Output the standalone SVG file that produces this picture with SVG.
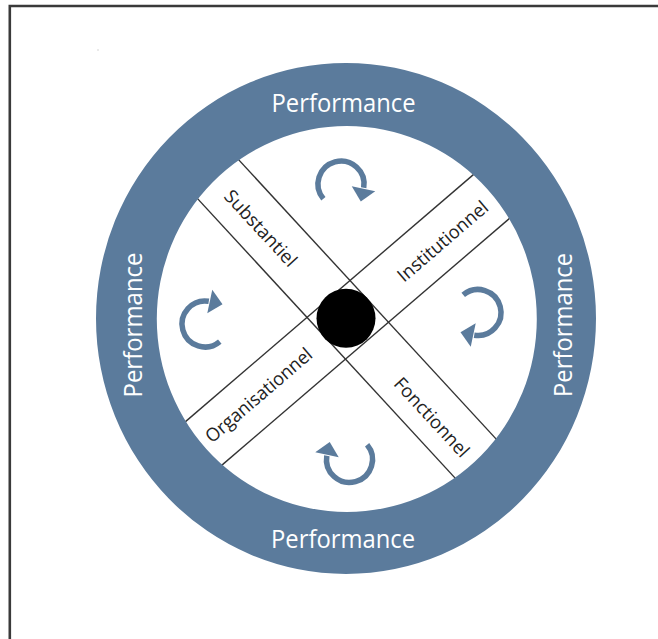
<svg xmlns="http://www.w3.org/2000/svg" width="658" height="639" viewBox="0 0 658 639">
<style>
.frame{fill:none;stroke:#3a3a3a;stroke-width:2.6}
.ring{fill:#5b7b9c;fill-rule:evenodd}
.perf{font-family:"Open Sans","Noto Sans","DejaVu Sans",sans-serif;font-size:25px;fill:#ffffff;text-anchor:middle}
.lbl{font-family:"Open Sans","Noto Sans","DejaVu Sans",sans-serif;font-size:18.5px;fill:#222222;text-anchor:middle}
.band{stroke:#333333;stroke-width:1.4;fill:none}
.arc{fill:none;stroke:#5b7b9c;stroke-width:5.5}
.head{fill:#5b7b9c}
</style>
<defs>
<g id="arrow">
<path class="arc" d="M -17.62,14.78 A 23 23 0 1 1 22.7,3.8"/>
<polygon class="head" points="34.24,7.27 10.76,2.29 19.8,17.5"/>
</g>
</defs>
<rect width="658" height="639" fill="#ffffff"/>
<path class="frame" d="M9.8,639 V6 H658"/>
<circle cx="98" cy="50" r="0.8" fill="#d0d0d0"/>
<g id="connectors">
<line class="band" x1="235.3" y1="156.1" x2="499.7" y2="442.9"/>
<line class="band" x1="194.3" y1="195.1" x2="457.7" y2="480.9"/>
<line class="band" x1="476" y1="172.4" x2="182" y2="424.6"/>
<line class="band" x1="513" y1="215.4" x2="219" y2="467.6"/>
</g>
<g id="performance-ring">
<path class="ring" d="M96,318.4 A250,255.5 0 1 0 596,318.4 A250,255.5 0 1 0 96,318.4 Z M156.8,319 A190,193 0 1 0 536.8,319 A190,193 0 1 0 156.8,319 Z"/>
<text class="perf" x="343.5" y="112" textLength="144" lengthAdjust="spacingAndGlyphs">Performance</text>
<text class="perf" x="343" y="548" textLength="144" lengthAdjust="spacingAndGlyphs">Performance</text>
<text class="perf" transform="translate(142,325) rotate(-90)" textLength="145" lengthAdjust="spacingAndGlyphs">Performance</text>
<text class="perf" transform="translate(572,325) rotate(-90)" textLength="144" lengthAdjust="spacingAndGlyphs">Performance</text>
</g>
<g id="center">
<circle cx="346" cy="318.3" r="29.5" fill="#000000"/>
</g>
<g id="substantiel">
<text class="lbl" transform="translate(261,228) rotate(47.3)" y="6.8" textLength="97" lengthAdjust="spacingAndGlyphs">Substantiel</text>
</g>
<g id="fonctionnel">
<text class="lbl" transform="translate(432,417) rotate(47.3)" y="6.8" textLength="101" lengthAdjust="spacingAndGlyphs">Fonctionnel</text>
</g>
<g id="institutionnel">
<text class="lbl" transform="translate(442.5,241) rotate(-40.6)" y="6.8" textLength="113" lengthAdjust="spacingAndGlyphs">Institutionnel</text>
</g>
<g id="organisationnel">
<text class="lbl" transform="translate(258.5,395) rotate(-40.6)" y="6.8" textLength="134" lengthAdjust="spacingAndGlyphs">Organisationnel</text>
</g>
<g id="arrow-top"><use href="#arrow" transform="translate(341,184)"/></g>
<g id="arrow-right"><use href="#arrow" transform="translate(478,312.5) rotate(90)"/></g>
<g id="arrow-bottom"><use href="#arrow" transform="translate(349.5,459.5) rotate(180)"/></g>
<g id="arrow-left"><use href="#arrow" transform="translate(205,324) rotate(270)"/></g>
</svg>
